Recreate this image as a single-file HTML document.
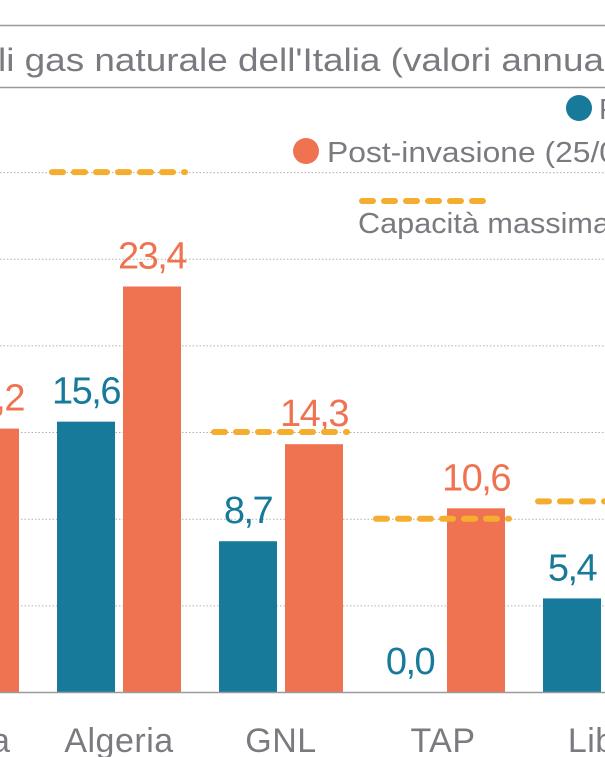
<!DOCTYPE html>
<html><head><meta charset="utf-8"><style>
html,body{margin:0;padding:0;background:#fff;}
svg{display:block;font-family:"Liberation Sans",sans-serif;}
</style></head><body>
<svg id="chart" width="605" height="757" viewBox="0 0 605 757">
<line x1="0" y1="25.5" x2="605" y2="25.5" stroke="#9a9a9a" stroke-width="1.5"/>
<line x1="0" y1="87.5" x2="605" y2="87.5" stroke="#9a9a9a" stroke-width="1.5"/>
<text x="-2" y="71" font-size="32" fill="#7a7a80" textLength="606" lengthAdjust="spacingAndGlyphs">li gas naturale dell'Italia (valori annua</text>
<g id="grid"></g>
<g id="bars"></g>
<g id="caps"></g>
<line x1="0" y1="692.5" x2="605" y2="692.5" stroke="#9a9a9a" stroke-width="1.5"/>
<g>
<circle cx="579" cy="108" r="13" fill="#177a9a"/>
<text x="599" y="119" font-size="29" fill="#7a7a80">P</text>
<circle cx="306" cy="151" r="13" fill="#ef7351"/>
<text x="327" y="162" font-size="29" fill="#7a7a80" textLength="290" lengthAdjust="spacingAndGlyphs">Post-invasione (25/0</text>
<line x1="362" y1="201" x2="494" y2="201" stroke="#f5ad2f" stroke-width="6" stroke-linecap="round" stroke-dasharray="11,11"/>
<text x="358" y="233" font-size="29" fill="#7a7a80" textLength="252" lengthAdjust="spacingAndGlyphs">Capacità massima</text>
</g>
</svg>
<script>
const categories = ["Russia","Algeria","GNL","TAP","Libia"];
const preValues = [29.0, 15.6, 8.7, 0.0, 5.4];
const postValues = [15.2, 23.4, 14.3, 10.6, 4.0];
const capacityValues = [null, 30, 15, 10, 11];
const gridTicks = [5,10,15,20,25,30];

const NS = "http://www.w3.org/2000/svg";
const y0 = 692, pxPerUnit = 17.33;
function yScale(v){ return y0 - v*pxPerUnit; }
function bandStart(i){ return -105 + i*162; }
const barW = 58, offset = 66;
function fmt(v){ return v.toFixed(1).replace('.',','); }
function mk(tag, attrs, parent){ const e=document.createElementNS(NS,tag); for(const k in attrs) e.setAttribute(k,attrs[k]); parent.appendChild(e); return e; }

const grid = document.getElementById('grid');
gridTicks.forEach(t=>{
  const l = mk('line',{x1:0,x2:605,y1:yScale(t)+0.5,y2:yScale(t)+0.5,stroke:'#b0b0b0','stroke-width':1,'stroke-dasharray':'1.5,2'},grid);
  
  
});

const bars = document.getElementById('bars');
categories.forEach((c,i)=>{
  const s = bandStart(i);
  const pv = preValues[i], qv = postValues[i];
  const b1 = mk('rect',{x:s,y:yScale(pv),width:barW,height:pv*pxPerUnit,fill:'#177a9a'},bars);
  
  
  const t1 = mk('text',{x:s+barW/2,y:yScale(pv)-18,'text-anchor':'middle','font-size':38,fill:'#177a9a','letter-spacing':'-1.5'},bars);
  t1.textContent = fmt(pv);
  
  
  const b2 = mk('rect',{x:s+offset,y:yScale(qv),width:barW,height:qv*pxPerUnit,fill:'#ef7351'},bars);
  
  
  const t2 = mk('text',{x:s+offset+barW/2,y:yScale(qv)-18,'text-anchor':'middle','font-size':38,fill:'#ef7351','letter-spacing':'-1.5'},bars);
  t2.textContent = fmt(qv);
  
  
  const cl = mk('text',{x:s+62,y:752,'text-anchor':'middle','font-size':34,fill:'#7a7a80','letter-spacing':'0.5'},bars);
  cl.textContent = c;
  
  
});

const caps = document.getElementById('caps');
categories.forEach((c,i)=>{
  const v = capacityValues[i];
  if(v===null) return;
  const s = bandStart(i);
  const l = mk('line',{x1:s-5,x2:s+128,y1:yScale(v),y2:yScale(v),stroke:'#f5ad2f','stroke-width':6,'stroke-linecap':'round','stroke-dasharray':'11,11'},caps);
  
  
});
</script>
</body></html>
